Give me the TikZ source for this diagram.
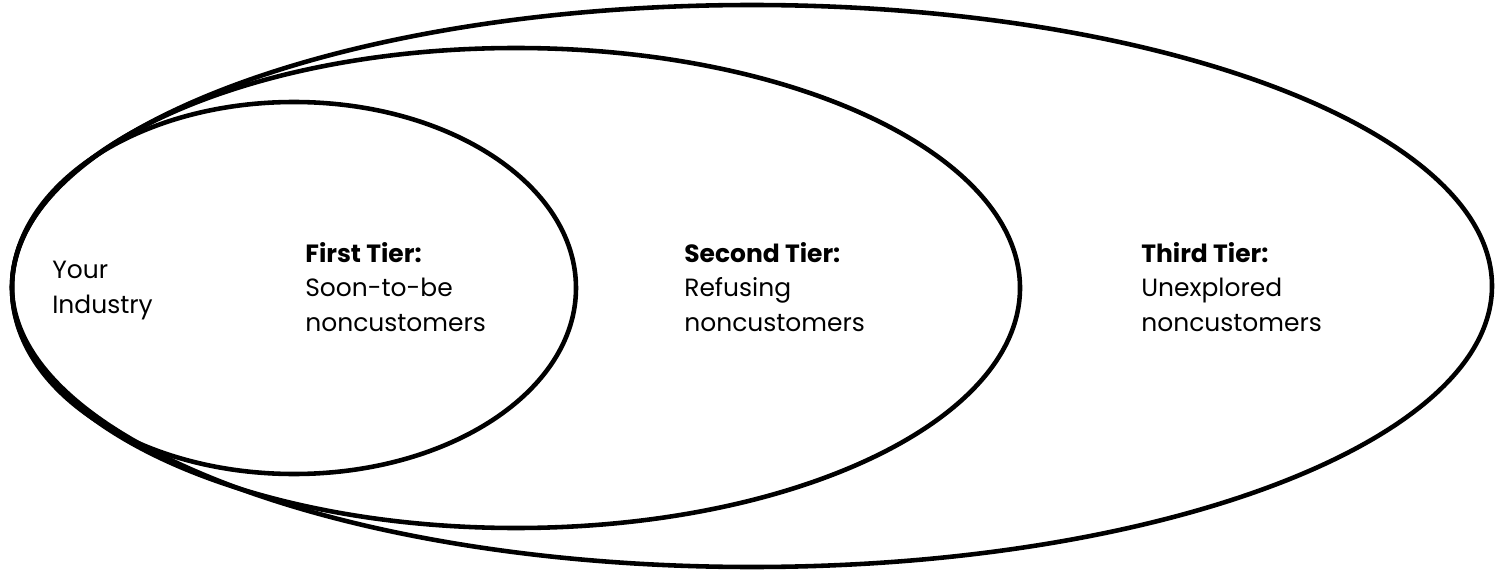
\documentclass[tikz,border=0pt]{standalone}
\usepackage{fontspec}
\setmainfont{Poppins}
\tikzset{
  ring/.style={line width=2.6pt},
  tierlabel/.style={anchor=base west,align=left,inner sep=0pt,
    font=\fontsize{14.2}{19.4}\selectfont}
}
\begin{document}
\begin{tikzpicture}[x=0.02cm,y=-0.02cm]
            \useasboundingbox (0,0) rectangle (1499,571);
            % The three nested tiers, all touching on the left
            \foreach \cx/\cy/\rx/\ry in {
              294/288/282/186,
              516/288/504/240,
              752/286/740/281} {
              \draw [ring] (\cx,\cy) ellipse [x radius=\rx, y radius=\ry];
            }
            
            % Labels of the tiers (anchored on the last line)
            \node [tierlabel] (industry) at (52,313) {Your\\Industry};
            \foreach \x/\name/\head/\sub in {
              305/first/First Tier:/Soon-to-be,
              684/second/Second Tier:/Refusing,
              1141/third/Third Tier:/Unexplored} {
              \node [tierlabel] (\name) at (\x,331) {\textbf{\head}\\\sub\\noncustomers};
            }
\end{tikzpicture}
\end{document}
